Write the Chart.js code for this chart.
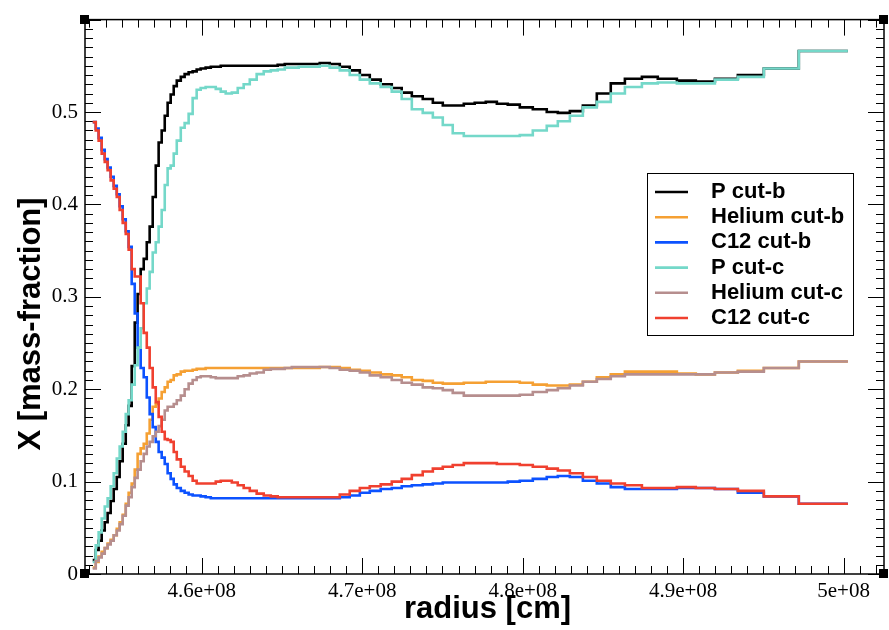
<!DOCTYPE html>
<html>
<head>
<meta charset="utf-8">
<script src="https://cdn.jsdelivr.net/npm/chart.js@4/dist/chart.umd.min.js"></script>
<style>
  html, body { margin: 0; padding: 0; background: #fff; }
  canvas { display: block; }
</style>
</head>
<body>
<canvas id="chart" width="889" height="630"></canvas>
<script>
// Cell edges of the radial mesh [cm]; each series holds one value per cell.
const radius = [
  4.5320e8, 4.5339e8, 4.5357e8, 4.5376e8, 4.5395e8, 4.5413e8, 4.5432e8, 4.5451e8, 4.5470e8, 4.5488e8,
  4.5507e8, 4.5526e8, 4.5544e8, 4.5563e8, 4.5582e8, 4.5600e8, 4.5619e8, 4.5638e8, 4.5657e8, 4.5675e8,
  4.5694e8, 4.5713e8, 4.5731e8, 4.5750e8, 4.5769e8, 4.5787e8, 4.5806e8, 4.5825e8, 4.5844e8, 4.5869e8,
  4.5893e8, 4.5918e8, 4.5943e8, 4.5968e8, 4.5993e8, 4.6024e8, 4.6056e8, 4.6087e8, 4.6118e8, 4.6149e8,
  4.6187e8, 4.6224e8, 4.6261e8, 4.6299e8, 4.6342e8, 4.6386e8, 4.6430e8, 4.6473e8, 4.6517e8, 4.6561e8,
  4.6604e8, 4.6648e8, 4.6691e8, 4.6735e8, 4.6797e8, 4.6860e8, 4.6922e8, 4.6985e8, 4.7047e8, 4.7115e8,
  4.7184e8, 4.7246e8, 4.7309e8, 4.7377e8, 4.7440e8, 4.7502e8, 4.7564e8, 4.7633e8, 4.7701e8, 4.7770e8,
  4.7839e8, 4.7907e8, 4.7982e8, 4.8063e8, 4.8150e8, 4.8219e8, 4.8294e8, 4.8375e8, 4.8462e8, 4.8549e8,
  4.8637e8, 4.8743e8, 4.8842e8, 4.8961e8, 4.9079e8, 4.9198e8, 4.9341e8, 4.9503e8, 4.9721e8, 5.0027e8
];

const pCutB = [
  0.015, 0.026, 0.036, 0.047, 0.056, 0.066, 0.079, 0.092, 0.105, 0.122,
  0.141, 0.161, 0.182, 0.225, 0.272, 0.303, 0.330, 0.341, 0.359, 0.376,
  0.408, 0.442, 0.467, 0.480, 0.496, 0.510, 0.519, 0.528, 0.534, 0.538,
  0.541, 0.543, 0.544, 0.546, 0.547, 0.548, 0.549, 0.549, 0.550, 0.550,
  0.550, 0.550, 0.550, 0.550, 0.550, 0.550, 0.550, 0.551, 0.552, 0.552,
  0.552, 0.552, 0.552, 0.553, 0.552, 0.549, 0.545, 0.540, 0.535, 0.530,
  0.526, 0.521, 0.517, 0.514, 0.510, 0.507, 0.507, 0.509, 0.510, 0.511,
  0.509, 0.508, 0.505, 0.503, 0.500, 0.499, 0.501, 0.507, 0.520, 0.531,
  0.536, 0.538, 0.536, 0.534, 0.533, 0.536, 0.540, 0.547, 0.566
];

const heliumCutB = [
  0.007, 0.013, 0.019, 0.024, 0.028, 0.033, 0.037, 0.042, 0.049, 0.056,
  0.064, 0.076, 0.088, 0.098, 0.113, 0.130, 0.136, 0.141, 0.152, 0.167,
  0.181, 0.184, 0.190, 0.197, 0.202, 0.208, 0.210, 0.215, 0.216, 0.219,
  0.220, 0.220, 0.221, 0.222, 0.222, 0.223, 0.223, 0.223, 0.223, 0.223,
  0.223, 0.223, 0.223, 0.223, 0.223, 0.223, 0.223, 0.223, 0.223, 0.223,
  0.223, 0.223, 0.223, 0.224, 0.224, 0.223, 0.221, 0.220, 0.218, 0.216,
  0.215, 0.213, 0.210, 0.209, 0.207, 0.206, 0.206, 0.207, 0.207, 0.208,
  0.208, 0.208, 0.207, 0.205, 0.204, 0.204, 0.205, 0.208, 0.213, 0.216,
  0.219, 0.219, 0.219, 0.217, 0.216, 0.218, 0.220, 0.223, 0.230
];

const c12CutB = [
  0.489, 0.482, 0.472, 0.459, 0.449, 0.440, 0.430, 0.420, 0.411, 0.398,
  0.384, 0.371, 0.354, 0.314, 0.282, 0.245, 0.223, 0.213, 0.191, 0.173,
  0.159, 0.143, 0.132, 0.126, 0.119, 0.109, 0.103, 0.097, 0.093, 0.090,
  0.088, 0.086, 0.085, 0.085, 0.084, 0.083, 0.082, 0.082, 0.082, 0.082,
  0.082, 0.082, 0.082, 0.082, 0.082, 0.082, 0.082, 0.082, 0.082, 0.082,
  0.082, 0.082, 0.082, 0.082, 0.082, 0.083, 0.085, 0.088, 0.090, 0.092,
  0.093, 0.095, 0.096, 0.097, 0.098, 0.099, 0.099, 0.099, 0.099, 0.099,
  0.099, 0.100, 0.101, 0.103, 0.105, 0.106, 0.105, 0.101, 0.098, 0.094,
  0.092, 0.092, 0.092, 0.093, 0.093, 0.092, 0.088, 0.084, 0.076
];

const pCutC = [
  0.013, 0.031, 0.045, 0.060, 0.073, 0.082, 0.095, 0.109, 0.125, 0.138,
  0.154, 0.173, 0.188, 0.205, 0.226, 0.245, 0.266, 0.293, 0.309, 0.327,
  0.348, 0.359, 0.376, 0.394, 0.421, 0.439, 0.442, 0.455, 0.469, 0.483,
  0.488, 0.498, 0.515, 0.524, 0.526, 0.527, 0.527, 0.525, 0.522, 0.520,
  0.521, 0.526, 0.530, 0.535, 0.541, 0.544, 0.545, 0.546, 0.548, 0.548,
  0.549, 0.549, 0.549, 0.550, 0.548, 0.545, 0.540, 0.535, 0.531, 0.527,
  0.522, 0.514, 0.503, 0.499, 0.494, 0.486, 0.477, 0.474, 0.474, 0.474,
  0.474, 0.474, 0.475, 0.480, 0.485, 0.490, 0.496, 0.505, 0.511, 0.520,
  0.527, 0.531, 0.532, 0.531, 0.531, 0.535, 0.538, 0.547, 0.566
];

const heliumCutC = [
  0.006, 0.014, 0.018, 0.022, 0.028, 0.032, 0.036, 0.042, 0.047, 0.054,
  0.063, 0.074, 0.083, 0.094, 0.104, 0.113, 0.122, 0.130, 0.138, 0.143,
  0.149, 0.154, 0.160, 0.167, 0.177, 0.181, 0.181, 0.184, 0.188, 0.193,
  0.200, 0.206, 0.210, 0.213, 0.214, 0.214, 0.213, 0.212, 0.212, 0.212,
  0.212, 0.214, 0.215, 0.217, 0.218, 0.221, 0.222, 0.222, 0.223, 0.224,
  0.224, 0.224, 0.224, 0.224, 0.223, 0.221, 0.220, 0.218, 0.215, 0.213,
  0.210, 0.207, 0.205, 0.202, 0.201, 0.199, 0.196, 0.193, 0.193, 0.193,
  0.193, 0.193, 0.194, 0.197, 0.199, 0.201, 0.204, 0.208, 0.211, 0.214,
  0.216, 0.216, 0.216, 0.216, 0.216, 0.218, 0.219, 0.223, 0.230
];

const c12CutC = [
  0.489, 0.480, 0.469, 0.455, 0.446, 0.437, 0.426, 0.417, 0.408, 0.394,
  0.380, 0.368, 0.351, 0.330, 0.322, 0.322, 0.293, 0.261, 0.245, 0.223,
  0.202, 0.186, 0.170, 0.154, 0.146, 0.145, 0.143, 0.132, 0.124, 0.116,
  0.111, 0.106, 0.101, 0.098, 0.098, 0.098, 0.098, 0.100, 0.101, 0.101,
  0.099, 0.096, 0.093, 0.090, 0.087, 0.085, 0.084, 0.083, 0.083, 0.083,
  0.083, 0.083, 0.083, 0.083, 0.083, 0.086, 0.090, 0.093, 0.095, 0.097,
  0.100, 0.103, 0.107, 0.111, 0.114, 0.116, 0.118, 0.120, 0.120, 0.120,
  0.119, 0.119, 0.118, 0.116, 0.114, 0.112, 0.109, 0.105, 0.101, 0.098,
  0.096, 0.093, 0.093, 0.094, 0.093, 0.092, 0.090, 0.084, 0.076
];

const seriesNames = ['P cut-b', 'Helium cut-b', 'C12 cut-b', 'P cut-c', 'Helium cut-c', 'C12 cut-c'];
const seriesValues = [pCutB, heliumCutB, c12CutB, pCutC, heliumCutC, c12CutC];
const seriesColors = ['#000000', '#f5a033', '#0c52ff', '#74d8c9', '#b68e8e', '#f0402f'];

const xTickValues = [4.6e8, 4.7e8, 4.8e8, 4.9e8, 5.0e8];
const yTickValues = [0, 0.1, 0.2, 0.3, 0.4, 0.5];
const xTitle = 'radius [cm]';
const yTitle = 'X [mass-fraction]';

// Each cell value is held from its left edge to the next edge; the last
// value is repeated at the outer edge so the final step is drawn.
function stepPoints(values) {
  return radius.map((r, i) => ({ x: r, y: values[Math.min(i, values.length - 1)] }));
}

const datasets = seriesNames.map((name, i) => ({
  label: name,
  data: stepPoints(seriesValues[i]),
  borderColor: seriesColors[i],
  backgroundColor: seriesColors[i],
  borderWidth: 2.6,
  pointRadius: 0,
  stepped: true,
  fill: false,
  order: seriesNames.length - i   // later series are painted on top
}));

const SANS = '"Liberation Sans", Arial, Helvetica, sans-serif';
const SERIF = '"Liberation Serif", "Times New Roman", serif';

// Frame with inward major/minor ticks on all four sides, axis titles,
// corner handles and the boxed legend.
const framePlugin = {
  id: 'frame',
  beforeDatasetsDraw(chart) {
    const { ctx, chartArea: a, scales: { x, y } } = chart;
    ctx.save();
    ctx.strokeStyle = '#000';
    ctx.lineWidth = 1;
    ctx.beginPath();
    const k0 = Math.ceil(x.min / 1e6), k1 = Math.floor(x.max / 1e6);
    for (let k = k0; k <= k1; k++) {
      const px = Math.round(x.getPixelForValue(k * 1e6)) + 0.5;
      const len = k % 10 === 0 ? 16 : 8;
      ctx.moveTo(px, a.bottom); ctx.lineTo(px, a.bottom - len);
      ctx.moveTo(px, a.top); ctx.lineTo(px, a.top + len);
    }
    const m1 = Math.round(y.max * 100);
    for (let k = 0; k <= m1; k++) {
      const py = Math.round(y.getPixelForValue(k / 100)) + 0.5;
      const len = k % 10 === 0 ? 16 : 8;
      ctx.moveTo(a.left, py); ctx.lineTo(a.left + len, py);
      ctx.moveTo(a.right, py); ctx.lineTo(a.right - len, py);
    }
    ctx.stroke();
    ctx.lineWidth = 1.5;
    ctx.strokeRect(a.left, a.top, a.right - a.left, a.bottom - a.top);
    ctx.restore();
  },
  afterDraw(chart) {
    const { ctx, chartArea: a } = chart;
    ctx.save();
    // axis titles
    ctx.fillStyle = '#000';
    ctx.font = 'bold 31px ' + SANS;
    ctx.textAlign = 'center';
    ctx.textBaseline = 'middle';
    ctx.fillText(xTitle, (a.left + a.right) / 2 + 3, 609);
    ctx.save();
    ctx.translate(31, 324);
    ctx.rotate(-Math.PI / 2);
    ctx.fillText(yTitle, 0, 0);
    ctx.restore();
    // corner handles
    [[a.left, a.top], [a.right, a.top], [a.left, a.bottom], [a.right, a.bottom]].forEach(([cx, cy]) => {
      ctx.fillRect(Math.round(cx) - 5, Math.round(cy) - 5, 9, 9);
    });
    // legend box
    const lx = 647.5, ly = 173.5, lw = 206, lh = 162;
    ctx.fillStyle = '#fff';
    ctx.fillRect(lx, ly, lw, lh);
    ctx.strokeStyle = '#000';
    ctx.lineWidth = 1;
    ctx.strokeRect(lx, ly, lw, lh);
    ctx.font = 'bold 22px ' + SANS;
    ctx.textBaseline = 'middle';
    ctx.textAlign = 'left';
    chart.data.datasets.forEach((ds, i) => {
      const cy = 192 + i * 25.2;
      ctx.strokeStyle = ds.borderColor;
      ctx.lineWidth = 2.6;
      ctx.beginPath();
      ctx.moveTo(655, cy);
      ctx.lineTo(688, cy);
      ctx.stroke();
      ctx.fillStyle = '#000';
      ctx.fillText(ds.label, 711, cy);
    });
    ctx.restore();
  }
};

new Chart(document.getElementById('chart'), {
  type: 'line',
  data: { datasets },
  plugins: [framePlugin],
  options: {
    responsive: false,
    devicePixelRatio: 1,
    animation: false,
    layout: { padding: { top: 12, right: 5, left: 0, bottom: 0 } },
    plugins: { legend: { display: false }, tooltip: { enabled: false } },
    scales: {
      x: {
        type: 'linear',
        min: 4.5272e8,
        max: 5.0252e8,
        grid: { display: false, drawTicks: false },
        border: { display: false },
        afterFit(scale) { scale.height = 56; },
        afterBuildTicks(scale) { scale.ticks = xTickValues.map(v => ({ value: v })); },
        ticks: {
          padding: 5,
          color: '#000',
          maxRotation: 0,
          font: { family: SERIF, size: 21 },
          callback: v => (+(v / 1e8).toFixed(1)) + 'e+08'
        }
      },
      y: {
        type: 'linear',
        min: 0,
        max: 0.6,
        grid: { display: false, drawTicks: false },
        border: { display: false },
        afterFit(scale) { scale.width = 85; },
        afterBuildTicks(scale) { scale.ticks = yTickValues.map(v => ({ value: v })); },
        ticks: {
          padding: 7,
          color: '#000',
          font: { family: SERIF, size: 21 },
          callback: v => String(+v.toFixed(1))
        }
      }
    }
  }
});
</script>
</body>
</html>
